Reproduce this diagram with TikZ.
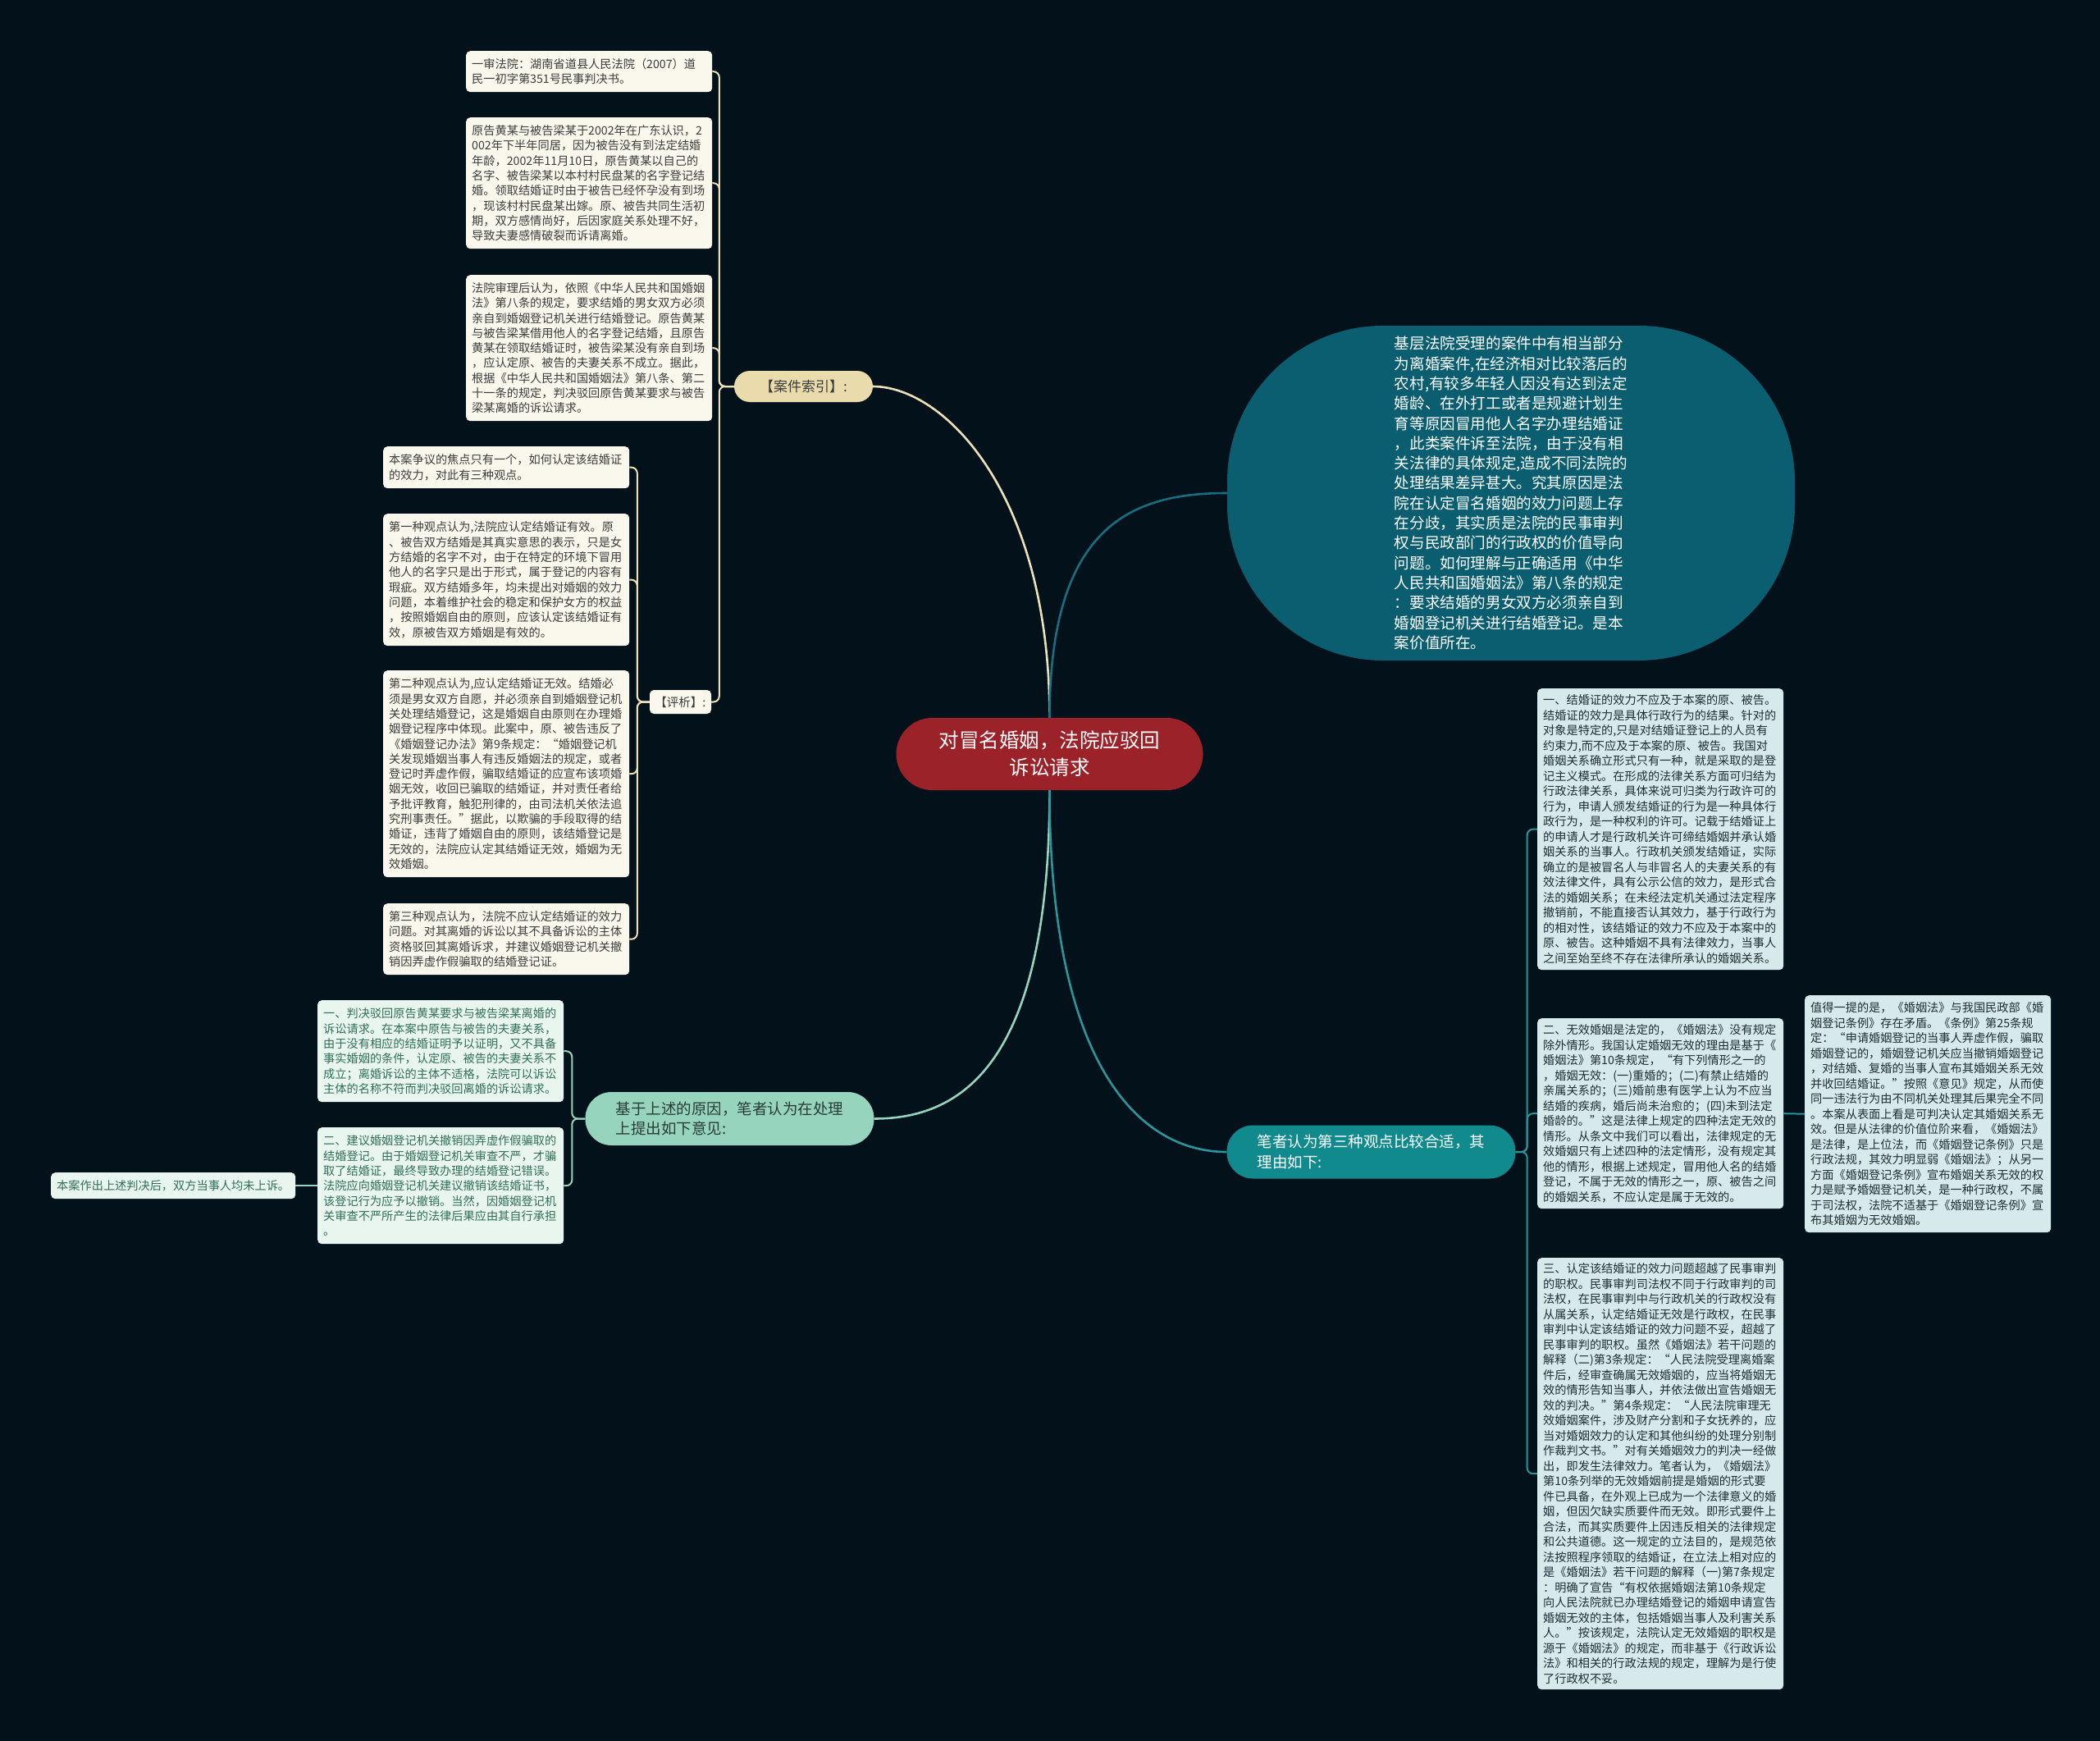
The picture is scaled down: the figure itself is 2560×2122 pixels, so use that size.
\documentclass[tikz,border=0pt]{standalone}
\usepackage{fontspec}
\setmainfont{Noto Sans CJK SC}
\definecolor{bg}{RGB}{3,17,27}
\definecolor{rootred}{RGB}{155,34,40}
\definecolor{ellteal}{RGB}{10,94,112}
\definecolor{gteal}{RGB}{17,138,142}
\definecolor{tanfill}{RGB}{233,219,172}
\definecolor{creamfill}{RGB}{250,247,237}
\definecolor{creamtext}{RGB}{60,60,60}
\definecolor{creamline}{RGB}{236,226,186}
\definecolor{mintfill}{RGB}{150,212,190}
\definecolor{mintbox}{RGB}{233,246,240}
\definecolor{minttext}{RGB}{48,110,88}
\definecolor{mintdark}{RGB}{40,60,55}
\definecolor{blueline}{RGB}{42,150,155}
\definecolor{bluebox}{RGB}{214,234,236}
\definecolor{bluetext}{RGB}{30,45,50}
\definecolor{ellline}{RGB}{24,110,128}
\tikzset{
  smallbox/.style={inner xsep=7pt, inner ysep=5pt, align=left, anchor=north west,
    rounded corners=5pt, text width=286pt},
  creambox/.style={smallbox, fill=creamfill, text=creamtext, font=\fontsize{14.2}{18.3}\selectfont},
  mintsmall/.style={smallbox, fill=mintbox, text=minttext, font=\fontsize{14.2}{18.3}\selectfont},
  bluesmall/.style={smallbox, fill=bluebox, text=bluetext, font=\fontsize{14.2}{18.5}\selectfont},
  rootnode/.style={fill=rootred, text=white, rounded corners=44pt, minimum width=374pt,
    minimum height=88pt, align=center, inner sep=0pt, font=\fontsize{24.5}{33}\selectfont},
  ellnode/.style={fill=ellteal, text=white, rounded corners=190pt, minimum width=692pt,
    minimum height=408pt, align=left, inner sep=0pt, font=\fontsize{18.6}{24.3}\selectfont},
  pillnode/.style={rounded corners=32pt, minimum width=352pt, minimum height=65pt,
    align=left, inner sep=0pt, font=\fontsize{18.5}{24.5}\selectfont},
  mainline/.style={line width=2.6pt},
  brline/.style={line width=2pt, rounded corners=7pt},
}
\begin{document}
\begin{tikzpicture}[x=1pt,y=-1pt]
\useasboundingbox (0,0) rectangle (2560,2122);
\fill[bg] (0,0) rectangle (2560,2122);

% root
\node[rootnode] (c) at (1279.5,919) {对冒名婚姻，法院应驳回\\诉讼请求};

% ellipse
\node[ellnode] (e) at (1842,601) {基层法院受理的案件中有相当部分\\
为离婚案件,在经济相对比较落后的\\
农村,有较多年轻人因没有达到法定\\
婚龄、在外打工或者是规避计划生\\
育等原因冒用他人名字办理结婚证\\
，此类案件诉至法院，由于没有相\\
关法律的具体规定,造成不同法院的\\
处理结果差异甚大。究其原因是法\\
院在认定冒名婚姻的效力问题上存\\
在分歧，其实质是法院的民事审判\\
权与民政部门的行政权的价值导向\\
问题。如何理解与正确适用《中华\\
人民共和国婚姻法》第八条的规定\\
：要求结婚的男女双方必须亲自到\\
婚姻登记机关进行结婚登记。是本\\
案价值所在。};

% first-level nodes
\node[fill=tanfill, text=creamtext, rounded corners=19pt, minimum width=169pt, minimum height=38pt,
  inner sep=0pt, font=\fontsize{17}{20}\selectfont] (k) at (979.5,471) {【案件索引】:};
\node[fill=creamfill, text=creamtext, rounded corners=5pt, minimum width=75pt, minimum height=29pt,
  inner sep=0pt, font=\fontsize{14.5}{17}\selectfont] (p) at (829.5,855.5) {【评析】:};
\node[pillnode, fill=mintfill, text=mintdark] (m) at (889.5,1363.5) {基于上述的原因，笔者认为在处理\\上提出如下意见:};
\node[pillnode, fill=gteal, text=white] (g) at (1671.5,1404) {笔者认为第三种观点比较合适，其\\理由如下:};

% case index children
\node[creambox, minimum height=50pt] (a1) at (568,62) {一审法院：湖南省道县人民法院（2007）道\\民一初字第351号民事判决书。};
\node[creambox, minimum height=160pt] (a2) at (568,143) {原告黄某与被告梁某于2002年在广东认识，2\\
002年下半年同居，因为被告没有到法定结婚\\
年龄，2002年11月10日，原告黄某以自己的\\
名字、被告梁某以本村村民盘某的名字登记结\\
婚。领取结婚证时由于被告已经怀孕没有到场\\
，现该村村民盘某出嫁。原、被告共同生活初\\
期，双方感情尚好，后因家庭关系处理不好，\\
导致夫妻感情破裂而诉请离婚。};
\node[creambox, minimum height=178pt] (a3) at (568,335) {法院审理后认为，依照《中华人民共和国婚姻\\
法》第八条的规定，要求结婚的男女双方必须\\
亲自到婚姻登记机关进行结婚登记。原告黄某\\
与被告梁某借用他人的名字登记结婚，且原告\\
黄某在领取结婚证时，被告梁某没有亲自到场\\
，应认定原、被告的夫妻关系不成立。据此，\\
根据《中华人民共和国婚姻法》第八条、第二\\
十一条的规定，判决驳回原告黄某要求与被告\\
梁某离婚的诉讼请求。};

% analysis children
\node[creambox, minimum height=51pt] (b1) at (467,544) {本案争议的焦点只有一个，如何认定该结婚证\\的效力，对此有三种观点。};
\node[creambox, minimum height=161pt] (b2) at (467,626) {第一种观点认为,法院应认定结婚证有效。原\\
、被告双方结婚是其真实意思的表示，只是女\\
方结婚的名字不对，由于在特定的环境下冒用\\
他人的名字只是出于形式，属于登记的内容有\\
瑕疵。双方结婚多年，均未提出对婚姻的效力\\
问题，本着维护社会的稳定和保护女方的权益\\
，按照婚姻自由的原则，应该认定该结婚证有\\
效，原被告双方婚姻是有效的。};
\node[creambox, minimum height=252pt] (b3) at (467,817) {第二种观点认为,应认定结婚证无效。结婚必\\
须是男女双方自愿，并必须亲自到婚姻登记机\\
关处理结婚登记，这是婚姻自由原则在办理婚\\
姻登记程序中体现。此案中，原、被告违反了\\
《婚姻登记办法》第9条规定：“婚姻登记机\\
关发现婚姻当事人有违反婚姻法的规定，或者\\
登记时弄虚作假，骗取结婚证的应宣布该项婚\\
姻无效，收回已骗取的结婚证，并对责任者给\\
予批评教育，触犯刑律的，由司法机关依法追\\
究刑事责任。”据此，以欺骗的手段取得的结\\
婚证，违背了婚姻自由的原则，该结婚登记是\\
无效的，法院应认定其结婚证无效，婚姻为无\\
效婚姻。};
\node[creambox, minimum height=87pt] (b4) at (467,1101) {第三种观点认为，法院不应认定结婚证的效力\\
问题。对其离婚的诉讼以其不具备诉讼的主体\\
资格驳回其离婚诉求，并建议婚姻登记机关撤\\
销因弄虚作假骗取的结婚登记证。};

% opinion children
\node[mintsmall, minimum height=124pt] (c1) at (387,1219) {一、判决驳回原告黄某要求与被告梁某离婚的\\
诉讼请求。在本案中原告与被告的夫妻关系，\\
由于没有相应的结婚证明予以证明，又不具备\\
事实婚姻的条件，认定原、被告的夫妻关系不\\
成立；离婚诉讼的主体不适格，法院可以诉讼\\
主体的名称不符而判决驳回离婚的诉讼请求。};
\node[mintsmall, minimum height=142pt] (c2) at (387,1374) {二、建议婚姻登记机关撤销因弄虚作假骗取的\\
结婚登记。由于婚姻登记机关审查不严，才骗\\
取了结婚证，最终导致办理的结婚登记错误。\\
法院应向婚姻登记机关建议撤销该结婚证书，\\
该登记行为应予以撤销。当然，因婚姻登记机\\
关审查不严所产生的法律后果应由其自行承担\\
。};
\node[mintsmall, text width=284pt, minimum height=32pt] (c3) at (62,1429) {本案作出上述判决后，双方当事人均未上诉。};

% reasons children
\node[bluesmall, minimum height=343pt] (d1) at (1874,839) {一、结婚证的效力不应及于本案的原、被告。\\
结婚证的效力是具体行政行为的结果。针对的\\
对象是特定的,只是对结婚证登记上的人员有\\
约束力,而不应及于本案的原、被告。我国对\\
婚姻关系确立形式只有一种，就是采取的是登\\
记主义模式。在形成的法律关系方面可归结为\\
行政法律关系，具体来说可归类为行政许可的\\
行为，申请人颁发结婚证的行为是一种具体行\\
政行为，是一种权利的许可。记载于结婚证上\\
的申请人才是行政机关许可缔结婚姻并承认婚\\
姻关系的当事人。行政机关颁发结婚证，实际\\
确立的是被冒名人与非冒名人的夫妻关系的有\\
效法律文件，具有公示公信的效力，是形式合\\
法的婚姻关系；在未经法定机关通过法定程序\\
撤销前，不能直接否认其效力，基于行政行为\\
的相对性，该结婚证的效力不应及于本案中的\\
原、被告。这种婚姻不具有法律效力，当事人\\
之间至始至终不存在法律所承认的婚姻关系。};
\node[bluesmall, minimum height=232pt] (d2) at (1874,1241) {二、无效婚姻是法定的，《婚姻法》没有规定\\
除外情形。我国认定婚姻无效的理由是基于《\\
婚姻法》第10条规定，“有下列情形之一的\\
，婚姻无效：(一)重婚的；(二)有禁止结婚的\\
亲属关系的；(三)婚前患有医学上认为不应当\\
结婚的疾病，婚后尚未治愈的；(四)未到法定\\
婚龄的。”这是法律上规定的四种法定无效的\\
情形。从条文中我们可以看出，法律规定的无\\
效婚姻只有上述四种的法定情形，没有规定其\\
他的情形，根据上述规定，冒用他人名的结婚\\
登记，不属于无效的情形之一，原、被告之间\\
的婚姻关系，不应认定是属于无效的。};
\node[bluesmall, minimum height=526pt] (d3) at (1874,1533) {三、认定该结婚证的效力问题超越了民事审判\\
的职权。民事审判司法权不同于行政审判的司\\
法权，在民事审判中与行政机关的行政权没有\\
从属关系，认定结婚证无效是行政权，在民事\\
审判中认定该结婚证的效力问题不妥，超越了\\
民事审判的职权。虽然《婚姻法》若干问题的\\
解释（二)第3条规定：“人民法院受理离婚案\\
件后，经审查确属无效婚姻的，应当将婚姻无\\
效的情形告知当事人，并依法做出宣告婚姻无\\
效的判决。”第4条规定：“人民法院审理无\\
效婚姻案件，涉及财产分割和子女抚养的，应\\
当对婚姻效力的认定和其他纠纷的处理分别制\\
作裁判文书。”对有关婚姻效力的判决一经做\\
出，即发生法律效力。笔者认为，《婚姻法》\\
第10条列举的无效婚姻前提是婚姻的形式要\\
件已具备，在外观上已成为一个法律意义的婚\\
姻，但因欠缺实质要件而无效。即形式要件上\\
合法，而其实质要件上因违反相关的法律规定\\
和公共道德。这一规定的立法目的，是规范依\\
法按照程序领取的结婚证，在立法上相对应的\\
是《婚姻法》若干问题的解释（一)第7条规定\\
：明确了宣告“有权依据婚姻法第10条规定\\
向人民法院就已办理结婚登记的婚姻申请宣告\\
婚姻无效的主体，包括婚姻当事人及利害关系\\
人。”按该规定，法院认定无效婚姻的职权是\\
源于《婚姻法》的规定，而非基于《行政诉讼\\
法》和相关的行政法规的规定，理解为是行使\\
了行政权不妥。};
\node[bluesmall, minimum height=289pt] (d4) at (2200,1213) {值得一提的是，《婚姻法》与我国民政部《婚\\
姻登记条例》存在矛盾。《条例》第25条规\\
定：“申请婚姻登记的当事人弄虚作假，骗取\\
婚姻登记的，婚姻登记机关应当撤销婚姻登记\\
，对结婚、复婚的当事人宣布其婚姻关系无效\\
并收回结婚证。”按照《意见》规定，从而使\\
同一违法行为由不同机关处理其后果完全不同\\
。本案从表面上看是可判决认定其婚姻关系无\\
效。但是从法律的价值位阶来看，《婚姻法》\\
是法律，是上位法，而《婚姻登记条例》只是\\
行政法规，其效力明显弱《婚姻法》；从另一\\
方面《婚姻登记条例》宣布婚姻关系无效的权\\
力是赋予婚姻登记机关，是一种行政权，不属\\
于司法权，法院不适基于《婚姻登记条例》宣\\
布其婚姻为无效婚姻。};

% main connectors
\draw[mainline, creamline] (c.north) .. controls (1279.5,600) and (1150,471) .. (k.east);
\draw[mainline, ellline] (c.north) .. controls (1279.5,640) and (1380,601) .. (e.west);
\draw[mainline, mintfill] (c.south) .. controls (1279.5,1300) and (1170,1363.5) .. (m.east);
\draw[mainline, blueline] (c.south) .. controls (1279.5,1300) and (1390,1404) .. (g.west);

% brackets
\foreach \t in {a1,a2,a3,p} \draw[brline, creamline] (k.west) -- ++(-18,0) |- (\t.east);
\foreach \t in {b1,b2,b3,b4} \draw[brline, creamline] (p.west) -- ++(-15,0) |- (\t.east);
\foreach \t in {c1,c2} \draw[brline, mintfill] (m.west) -- ++(-16,0) |- (\t.east);
\draw[brline, mintfill] (c2.west) -- (c3.east);
\foreach \t in {d1,d2,d3} \draw[brline, blueline] (g.east) -- ++(14,0) |- (\t.west);
\draw[brline, blueline] (d2.east) -- (d4.west);
\end{tikzpicture}
\end{document}
